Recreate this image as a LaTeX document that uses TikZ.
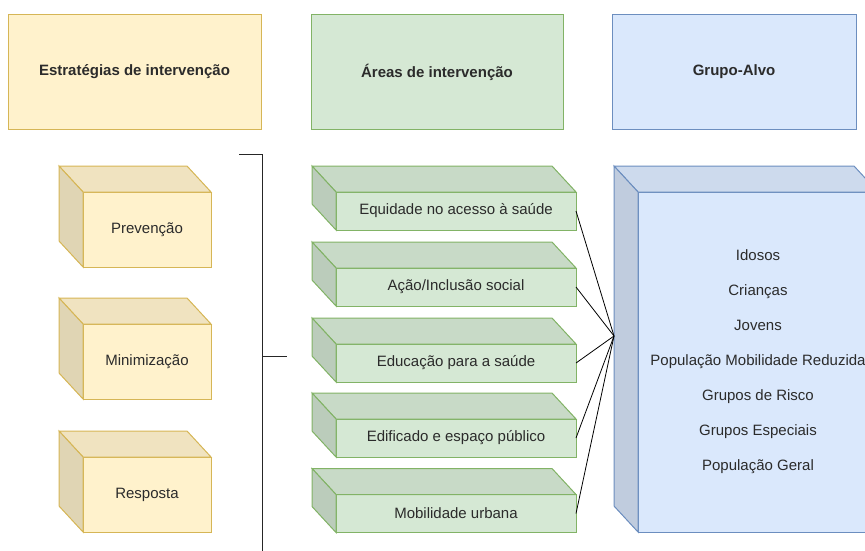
\documentclass[tikz,border=0pt]{standalone}
\usepackage{fontspec}
\setmainfont{Liberation Sans}
\usetikzlibrary{calc}

\definecolor{amarelo}{HTML}{FFF2CC}
\definecolor{amareloD}{HTML}{D6B656}
\definecolor{verde}{HTML}{D5E8D4}
\definecolor{verdeD}{HTML}{82B366}
\definecolor{azul}{HTML}{DAE8FC}
\definecolor{azulD}{HTML}{6C8EBF}
\definecolor{texto}{HTML}{2B2B2B}

\tikzset{
  base/.style={line width=1pt, text=texto, inner sep=0pt, outer sep=0pt,
    font=\fontsize{15}{18}\selectfont},
  cabeca/.style={base, draw=#1D, fill=#1, minimum height=114pt,
    font=\fontsize{15}{18}\selectfont\bfseries},
  frente/.style={base, draw=#1D, fill=#1},
  ligacao/.style={line width=0.8pt, black},
  chave/.style={line width=1pt, black!85},
}

% top and left faces of a box
\newcommand{\faces}[2]{%
  \filldraw[line width=1pt, draw=#2D, fill=#2!94!black]
    (#1.north west) -- ++(-24,-26) -- ($(#1.north east)+(-24,-26)$) -- (#1.north east) -- cycle;
  \filldraw[line width=1pt, draw=#2D, fill=#2!88!black]
    (#1.north west) -- ++(-24,-26) -- ($(#1.south west)+(-24,-26)$) -- (#1.south west) -- cycle;}

\begin{document}
\begin{tikzpicture}[x=1pt,y=-1pt]
\clip (0,0) rectangle (865,551);

% headers
\node[cabeca=amarelo, minimum width=253pt] (estrat) at (134.5,72) {Estratégias de intervenção};
\node[cabeca=verde, minimum width=252pt] (areas) at (437,72) {Áreas de intervenção};
\node[cabeca=azul, minimum width=244pt] (grupo) at (734,72) {Grupo-Alvo};

% estrategias
\foreach \n/\t/\y in {prev/Prevenção/229.5, mini/Minimização/361.5, resp/Resposta/494.5}
  \node[frente=amarelo, minimum width=128pt, minimum height=75pt] (\n) at (147,\y) {\t};
\foreach \n in {prev,mini,resp}
  \faces{\n}{amarelo};

% areas
\foreach \n/\t/\y in {equi/Equidade no acesso à saúde/211, acao/{Ação/Inclusão social}/287,
    educ/Educação para a saúde/363, edif/Edificado e espaço público/438, mobi/Mobilidade urbana/513.5}
  \node[frente=verde, minimum width=240pt, minimum height=38pt] (\n) at (456,\y) {\t};
\foreach \n in {equi,acao,educ,edif,mobi}
  \faces{\n}{verde};

% grupo-alvo
\node[frente=azul, minimum width=240pt, minimum height=340pt, align=center,
  font=\fontsize{15}{35}\selectfont] (alvo) at (758,362)
  {Idosos\\Crianças\\Jovens\\População Mobilidade Reduzida\\Grupos de Risco\\Grupos Especiais\\População Geral};
\faces{alvo}{azul}
\coordinate (hub) at ($(alvo.west)+(-24,-26)$);

\foreach \n in {equi,acao,educ,edif,mobi}
  \draw[ligacao] (\n.east) -- (hub);

% chaveta
\draw[chave] (239,154) -- (262,154) -- (262,551);
\draw[chave] (262,356) -- (287,356);
\end{tikzpicture}
\end{document}
